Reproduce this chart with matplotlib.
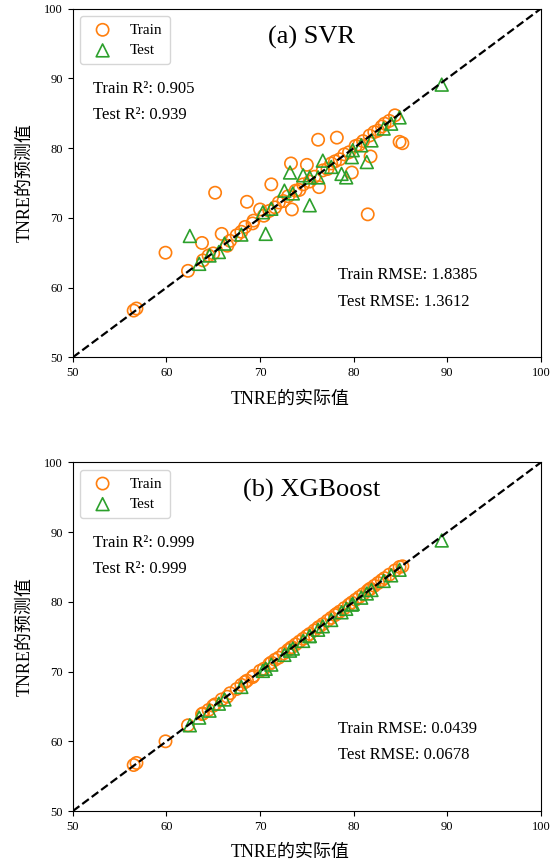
import matplotlib
matplotlib.use('Agg')
import matplotlib.pyplot as plt

plt.rcParams['font.family'] = ['Liberation Serif', 'Noto Sans CJK SC']

# 训练集: 实际值, SVR 预测值, XGBoost 预测值
train_actual = [56.5, 56.8, 59.9, 62.3, 63.8, 63.9, 64.5, 65.0, 65.2, 65.9,
                66.5, 66.8, 67.5, 68.0, 68.4, 68.6, 69.2, 69.3, 70.0, 70.4,
                71.0, 71.2, 71.6, 72.0, 72.5, 73.0, 73.3, 73.4, 73.8, 74.2,
                74.6, 75.0, 75.3, 75.8, 76.2, 76.3, 76.7, 77.2, 77.6, 78.0,
                78.2, 78.5, 79.0, 79.5, 79.8, 80.2, 80.6, 81.0, 81.5, 81.7,
                81.8, 82.2, 82.6, 83.0, 83.3, 83.8, 84.4, 84.9, 85.2]
train_svr = [56.7, 57.0, 65.0, 62.4, 66.4, 63.9, 64.6, 64.9, 73.6, 67.7,
             66.0, 66.7, 67.5, 68.0, 68.7, 72.3, 69.2, 69.6, 71.2, 70.3,
             71.0, 74.8, 71.5, 72.2, 72.4, 73.1, 77.8, 71.2, 73.9, 74.0,
             74.8, 77.6, 75.2, 75.9, 81.2, 74.4, 76.8, 77.0, 77.8, 78.1,
             81.5, 78.4, 79.1, 79.4, 76.5, 80.3, 80.5, 81.0, 70.5, 81.8,
             78.8, 82.3, 82.5, 83.1, 83.5, 83.9, 84.7, 80.9, 80.7]
train_xgb = [56.6, 56.9, 60.0, 62.3, 63.9, 64.0, 64.5, 65.1, 65.3, 66.0,
             66.4, 66.9, 67.5, 68.1, 68.5, 68.7, 69.2, 69.4, 70.1, 70.4,
             71.1, 71.3, 71.7, 72.0, 72.6, 73.1, 73.4, 73.5, 73.9, 74.3,
             74.7, 75.1, 75.4, 75.9, 76.3, 76.4, 76.8, 77.3, 77.7, 78.1,
             78.3, 78.6, 79.1, 79.6, 79.9, 80.3, 80.7, 81.1, 81.6, 81.8,
             81.9, 82.3, 82.7, 83.1, 83.4, 83.9, 84.5, 85.0, 85.1]

# 测试集
test_actual = [62.5, 63.5, 64.6, 65.6, 66.2, 68.0, 70.3, 70.6, 71.2, 72.6,
               73.2, 73.5, 74.6, 75.3, 75.3, 76.2, 76.7, 77.6, 78.7, 79.2,
               79.8, 79.9, 80.8, 81.4, 81.9, 83.2, 84.0, 84.9, 89.4]
test_svr = [67.4, 63.4, 64.6, 65.1, 66.3, 67.6, 70.8, 67.7, 71.3, 73.9,
            76.5, 73.5, 76.1, 71.8, 75.8, 75.8, 78.2, 77.3, 76.3, 75.8,
            78.7, 79.7, 80.4, 78.0, 81.1, 82.8, 83.5, 84.4, 89.1]
test_xgb = [62.3, 63.4, 64.4, 65.4, 66.0, 67.8, 70.1, 70.4, 71.0, 72.4,
            73.0, 73.3, 74.4, 75.1, 75.1, 76.0, 76.5, 77.4, 78.5, 79.0,
            79.6, 79.7, 80.6, 81.2, 81.7, 83.0, 83.8, 84.6, 88.8]

panels = [
    ('(a) SVR', train_svr, test_svr, '0.905', '0.939', '1.8385', '1.3612'),
    ('(b) XGBoost', train_xgb, test_xgb, '0.999', '0.999', '0.0439', '0.0678'),
]

fig = plt.figure(figsize=(5.6, 8.61), dpi=100)
axes_pos = [[0.130, 0.585, 0.836, 0.405], [0.130, 0.058, 0.836, 0.405]]

for pos, (title, tr_pred, te_pred, r2_tr, r2_te, rmse_tr, rmse_te) in zip(axes_pos, panels):
    ax = fig.add_axes(pos)
    ax.scatter(train_actual, tr_pred, s=78, facecolors='none', edgecolors='#ff7f0e',
               linewidths=1.2, marker='o', label='Train', zorder=3)
    ax.scatter(test_actual, te_pred, s=85, facecolors='none', edgecolors='#2ca02c',
               linewidths=1.2, marker='^', label='Test', zorder=3)
    ax.plot([50, 100], [50, 100], 'k--', lw=1.6, zorder=4)
    ax.set_xlim(50, 100)
    ax.set_ylim(50, 100)
    ax.set_xticks(range(50, 101, 10))
    ax.set_yticks(range(50, 101, 10))
    ax.tick_params(labelsize=9)
    ax.set_xlabel('TNRE的实际值', fontsize=13)
    ax.set_ylabel('TNRE的预测值', fontsize=13)
    ax.xaxis.set_label_coords(0.465, -0.095)
    ax.yaxis.set_label_coords(-0.085, 0.5)
    ax.legend(loc='upper left', fontsize=11, borderpad=0.45, handletextpad=0.8,
              labelspacing=0.45)
    ax.text(0.51, 0.918, title, transform=ax.transAxes, fontsize=19,
            ha='center', va='center')
    ax.text(0.043, 0.77, 'Train R²: ' + r2_tr, transform=ax.transAxes,
            fontsize=12, va='center')
    ax.text(0.043, 0.695, 'Test R²: ' + r2_te, transform=ax.transAxes,
            fontsize=12, va='center')
    ax.text(0.566, 0.235, 'Train RMSE: ' + rmse_tr, transform=ax.transAxes,
            fontsize=12, va='center')
    ax.text(0.566, 0.16, 'Test RMSE: ' + rmse_te, transform=ax.transAxes,
            fontsize=12, va='center')

fig.savefig('out.png', dpi=100)
